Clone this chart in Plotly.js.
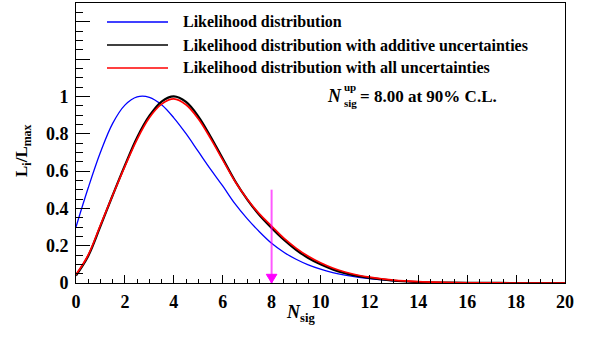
<!DOCTYPE html>
<html>
<head>
<meta charset="utf-8">
<script src="https://cdn.plot.ly/plotly-3.0.1.min.js"></script>
<style>html,body{margin:0;padding:0;background:#fff;}#chart{width:591px;height:339px;}</style>
</head>
<body>
<div id="chart"></div>
<script>
// ---- data ----
const seriesNames = [
  "Likelihood distribution",
  "Likelihood distribution with additive uncertainties",
  "Likelihood distribution with all uncertainties"
];
const seriesColors = ["#0000ff", "#000000", "#ff0000"];

const nsig   = [0,0.5,1,1.5,2,2.5,3,3.5,4,4.5,5,5.5,6,6.5,7,7.5,8,8.5,9,9.5,10,10.5,11,11.5,12,13,14,15,16,18,20];
const lBlue  = [0.30,0.51,0.70,0.855,0.953,0.997,0.995,0.955,0.885,0.80,0.705,0.61,0.52,0.425,0.345,0.275,0.213,0.165,0.127,0.097,0.074,0.056,0.042,0.031,0.023,0.011,0.005,0.002,0.001,0,0];
const lAdd   = [0.04,0.145,0.305,0.47,0.63,0.78,0.895,0.972,1.0,0.97,0.893,0.785,0.667,0.548,0.448,0.364,0.295,0.232,0.178,0.134,0.10,0.073,0.053,0.038,0.027,0.012,0.005,0.002,0.001,0,0];
const lAll   = [0.045,0.15,0.31,0.47,0.625,0.77,0.885,0.958,0.986,0.955,0.88,0.775,0.66,0.545,0.45,0.37,0.305,0.24,0.187,0.143,0.108,0.08,0.059,0.043,0.031,0.015,0.007,0.003,0.001,0,0];

const xTickVals = [0,2,4,6,8,10,12,14,16,18,20];
const yTickVals = [0,0.2,0.4,0.6,0.8,1,1.2,1.4];
const yTickText = ["0","0.2","0.4","0.6","0.8","1","",""];

const nsigUp = 8.00;
const clLevel = 90;
const arrowTopValue = 0.5;

// ---- geometry / style ----
const W = 591, H = 339;
const M = {l:76, r:26, t:3, b:56};
const PW = W - M.l - M.r, PH = H - M.t - M.b;
const XR = [0, 20], YR = [0, 1.5];
const px2paperX = p => (p - M.l) / PW;
const py2paperY = p => (H - M.b - p) / PH;
const FONT = "Liberation Serif, Times New Roman, serif";

const lineWidths = [1.3, 2.2, 1.7];
const ys = [lBlue, lAdd, lAll];

const traces = ys.map((y, i) => ({
  x: nsig, y: y, type: "scatter", mode: "lines",
  line: {color: seriesColors[i], width: lineWidths[i], shape: "spline", smoothing: 1},
  name: seriesNames[i], showlegend: false, hoverinfo: "skip"
}));

const shapes = [];
const annotations = [];

// legend
const legRowsPx = [22, 45, 68];
seriesNames.forEach((nm, i) => {
  shapes.push({type: "line", xref: "paper", yref: "paper",
    x0: px2paperX(107), x1: px2paperX(168), y0: py2paperY(legRowsPx[i]), y1: py2paperY(legRowsPx[i]),
    line: {color: seriesColors[i], width: 1.4}});
  annotations.push({xref: "paper", yref: "paper", x: px2paperX(181), y: py2paperY(legRowsPx[i]),
    xanchor: "left", yanchor: "middle", showarrow: false,
    text: "<b>" + nm + "</b>", font: {family: FONT, size: 16, color: "#000"}});
});

// upper-limit arrow
const pxPerX = PW / (XR[1] - XR[0]);
const pxPerY = PH / (YR[1] - YR[0]);
shapes.push({type: "line", xref: "x", yref: "y", x0: nsigUp, x1: nsigUp, y0: arrowTopValue, y1: 0,
  line: {color: "rgba(255,0,255,0.65)", width: 2}});
const hw = 5.3 / pxPerX, hh = 8.7 / pxPerY;
shapes.push({type: "path", xref: "x", yref: "y",
  path: `M ${nsigUp - hw},${hh} L ${nsigUp + hw},${hh} L ${nsigUp},0 Z`,
  fillcolor: "#ff00ff", line: {color: "#ff00ff", width: 1}});

// upper-limit text
annotations.push({xref: "paper", yref: "paper", x: px2paperX(334), y: py2paperY(96),
  xanchor: "center", yanchor: "middle", showarrow: false,
  text: "<b><i>N</i></b>", font: {family: FONT, size: 18, color: "#000"}});
annotations.push({xref: "paper", yref: "paper", x: px2paperX(342), y: py2paperY(87),
  xanchor: "left", yanchor: "middle", showarrow: false,
  text: "<b>up</b>", font: {family: FONT, size: 11, color: "#000"}});
annotations.push({xref: "paper", yref: "paper", x: px2paperX(342), y: py2paperY(103),
  xanchor: "left", yanchor: "middle", showarrow: false,
  text: "<b>sig</b>", font: {family: FONT, size: 11, color: "#000"}});
annotations.push({xref: "paper", yref: "paper", x: px2paperX(358), y: py2paperY(96.5),
  xanchor: "left", yanchor: "middle", showarrow: false,
  text: `<b>= ${nsigUp.toFixed(2)} at ${clLevel}% C.L.</b>`, font: {family: FONT, size: 17, color: "#000"}});

// axis titles
annotations.push({xref: "paper", yref: "paper", x: px2paperX(300), y: py2paperY(313),
  xanchor: "center", yanchor: "middle", showarrow: false,
  text: "<b><i>N</i></b><sub><b>sig</b></sub>", font: {family: FONT, size: 18, color: "#000"}});
annotations.push({xref: "paper", yref: "paper", x: px2paperX(23), y: py2paperY(151),
  xanchor: "center", yanchor: "middle", showarrow: false, textangle: -90,
  text: "<b>L<sub>i</sub>/L<sub>max</sub></b>", font: {family: FONT, size: 17, color: "#000"}});

const layout = {
  width: W, height: H, margin: M,
  paper_bgcolor: "#fff", plot_bgcolor: "#fff", showlegend: false,
  xaxis: {range: XR, tickmode: "array", tickvals: xTickVals, ticks: "inside", ticklen: 8.5, tickwidth: 1,
    tickcolor: "#000", showline: true, linecolor: "#000", linewidth: 1, mirror: true,
    showgrid: false, zeroline: false, ticklabelstandoff: 2,
    tickfont: {family: FONT, size: 18, color: "#000", weight: "bold"},
    minor: {tickmode: "linear", tick0: 0, dtick: 0.5, ticks: "inside", ticklen: 4.2, tickcolor: "#000", tickwidth: 1, showgrid: false}},
  yaxis: {range: YR, tickmode: "array", tickvals: yTickVals, ticktext: yTickText, ticks: "inside", ticklen: 14, tickwidth: 1,
    tickcolor: "#000", showline: true, linecolor: "#000", linewidth: 1, mirror: true,
    showgrid: false, zeroline: false, ticklabelstandoff: 3,
    tickfont: {family: FONT, size: 18, color: "#000", weight: "bold"},
    minor: {tickmode: "linear", tick0: 0, dtick: 0.05, ticks: "inside", ticklen: 7, tickcolor: "#000", tickwidth: 1, showgrid: false}},
  shapes: shapes, annotations: annotations
};

Plotly.newPlot("chart", traces, layout, {staticPlot: true, displayModeBar: false});
</script>
</body>
</html>
